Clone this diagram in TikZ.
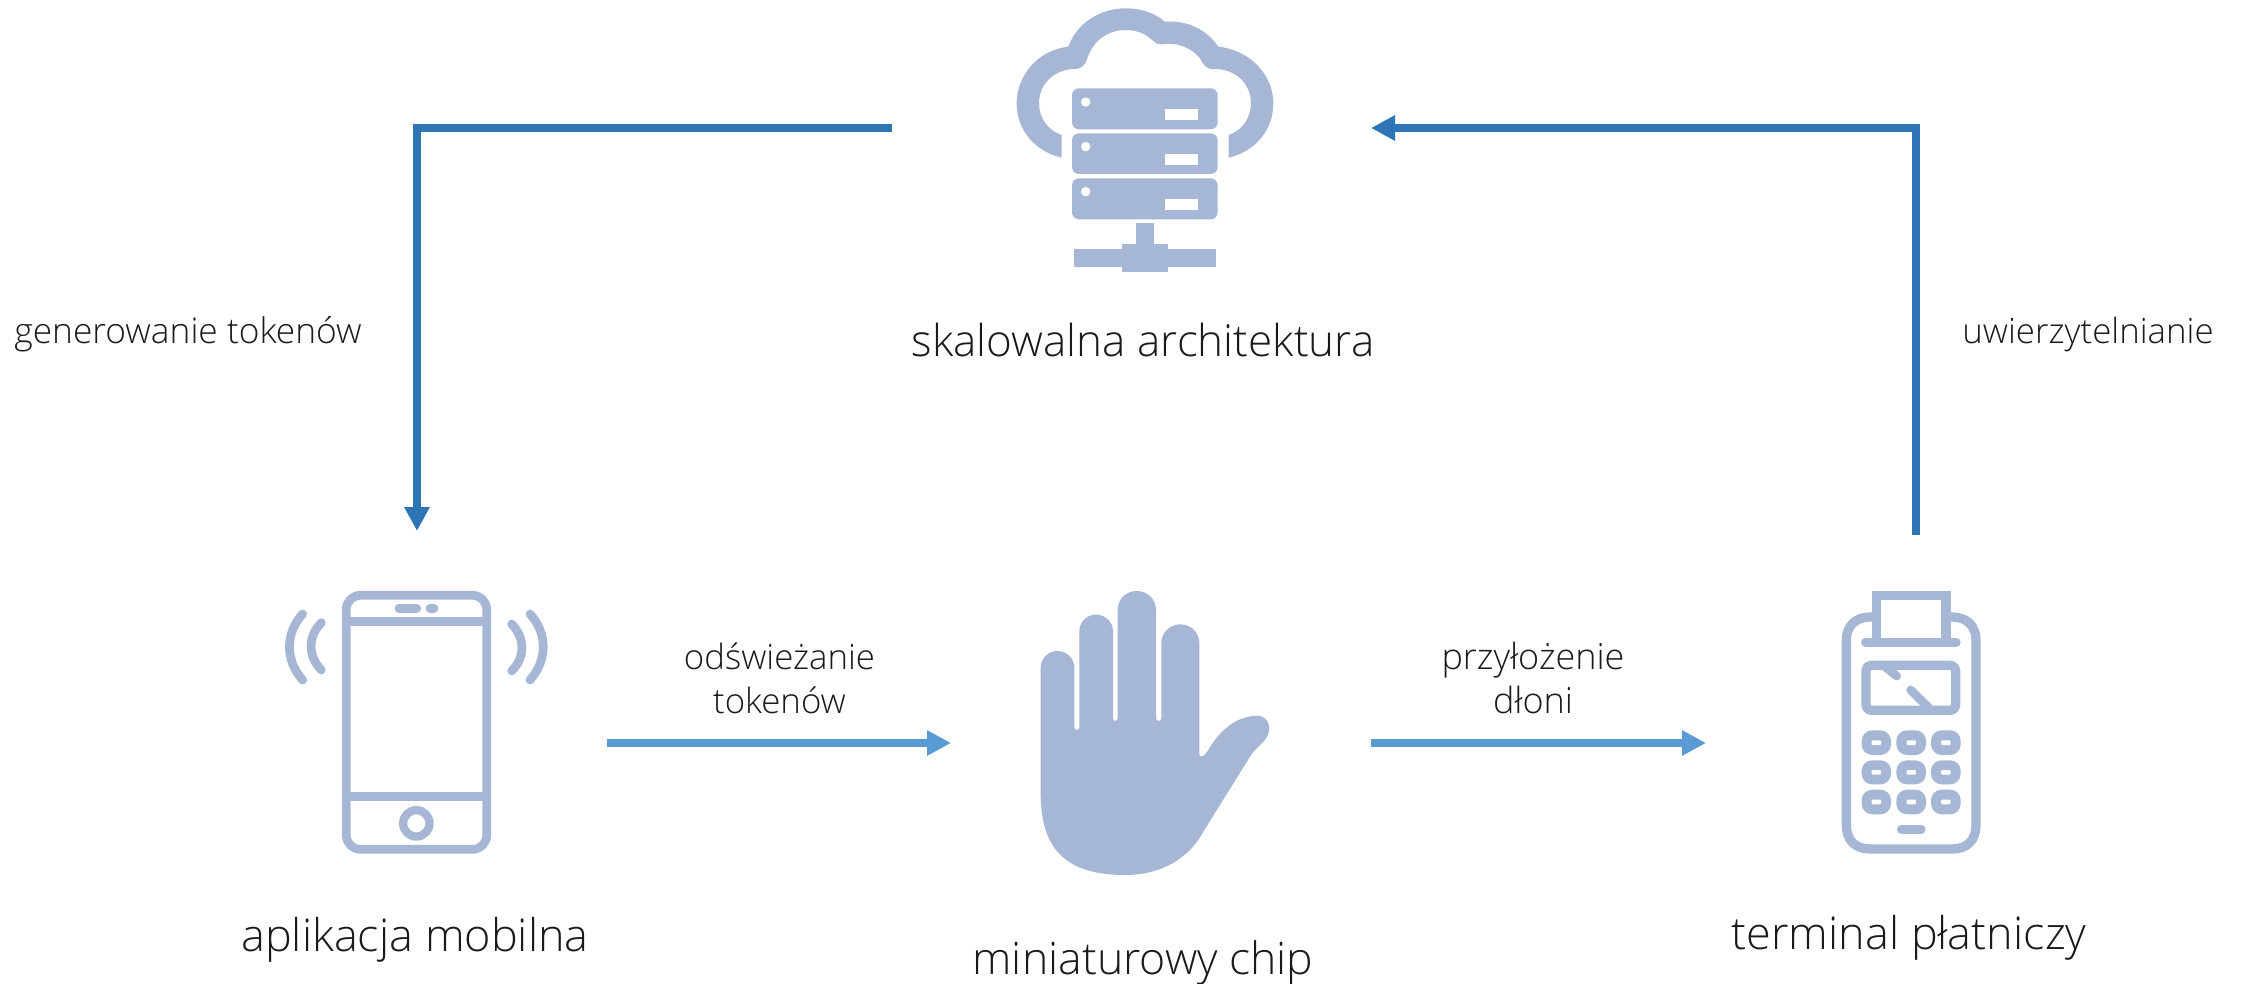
\documentclass[tikz,border=0pt]{standalone}
\usepackage{fontspec}
\setmainfont{Open Sans Light}
\usetikzlibrary{arrows.meta}
\definecolor{icon}{HTML}{A6B7D6}
\definecolor{darkarrow}{HTML}{2E75B6}
\definecolor{lightarrow}{HTML}{5B9BD5}
\definecolor{txt}{HTML}{1A1A1A}
\tikzset{
  anchorbox/.style={draw=none,inner sep=0pt,outer sep=0pt,minimum width=#1},
  flow/.style={line width=8pt,-{Triangle[length=24pt,width=24pt]}},
  darkflow/.style={flow,draw=darkarrow,color=darkarrow},
  lightflow/.style={flow,draw=lightarrow,color=lightarrow},
  biglabel/.style={anchor=base,text=txt,inner sep=0pt,font=\fontsize{#1}{#1}\selectfont},
  smalllabel/.style={anchor=base,text=txt,inner sep=0pt,align=center,font=\fontsize{#1}{44}\selectfont},
  iconline/.style={draw=icon,line cap=round,line join=round},
}
\begin{document}
\begin{tikzpicture}[x=1pt,y=-1pt]
\useasboundingbox (0,0) rectangle (2241,984);
\fill[white] (0,0) rectangle (2241,984);

% cloud + servers
\begin{scope}[shift={(980,0)},x=0.33333pt,y=-0.33333pt]
\fill[icon] (245,473) .. controls (165,455) and (110,390) .. (110,310)
  .. controls (110,225) and (175,150) .. (265,140)
  .. controls (290,70) and (360,25) .. (437,25)
  .. controls (485,25) and (525,40) .. (555,65)
  .. controls (625,60) and (680,90) .. (715,140)
  .. controls (810,150) and (880,225) .. (880,310)
  .. controls (880,390) and (825,455) .. (746,473)
  -- (746,405)
  .. controls (790,390) and (813,350) .. (813,310)
  .. controls (813,250) and (765,207) .. (705,207)
  .. controls (680,210) and (670,195) .. (660,175)
  .. controls (635,145) and (595,125) .. (545,133)
  .. controls (530,135) and (525,125) .. (510,115)
  .. controls (490,98) and (465,90) .. (437,90)
  .. controls (385,90) and (340,120) .. (322,175)
  .. controls (315,200) and (300,207) .. (285,207)
  .. controls (225,207) and (177,250) .. (177,310)
  .. controls (177,355) and (205,392) .. (245,405) -- cycle;
\foreach \t/\b/\d/\ra/\rb in {265/388/306/327/360,400/522/440/462/495,535/658/575/597/630}{
  \fill[icon,rounded corners=7pt] (276,\t) rectangle (713,\b);
  \fill[white] (317,\d) circle[radius=4.7pt];
  \fill[white] (554,\ra) rectangle (653,\rb);
}
\fill[icon] (469,670) rectangle (521,735);
\fill[icon] (427,732) rectangle (563,815);
\fill[icon] (281,748) rectangle (708,800);
\end{scope}

% phone
\begin{scope}[shift={(260,570)},x=0.33333pt,y=-0.33333pt]
\draw[iconline,line width=8.7pt,rounded corners=14pt] (259,76) rectangle (680,838);
\draw[iconline,line width=8.4pt,line cap=butt] (259,155) -- (680,155) (259,680) -- (680,680);
\draw[iconline,line width=8.7pt] (417,115) -- (470,115) (510,115) -- (522,115);
\draw[iconline,line width=8.3pt] (469,760) circle[radius=13.2pt];
\draw[iconline,line width=8.7pt] (128,132) .. controls (75,190) and (75,270) .. (128,330);
\draw[iconline,line width=8.7pt] (184,158) .. controls (143,200) and (143,258) .. (184,300);
\draw[iconline,line width=8.7pt] (810,132) .. controls (863,190) and (863,270) .. (810,330);
\draw[iconline,line width=8.7pt] (755,162) .. controls (796,204) and (796,262) .. (755,303);
\end{scope}

% hand
\begin{scope}[shift={(1020,570)},x=0.33333pt,y=-0.33333pt]
\fill[icon] (62,293) .. controls (62,265) and (85,243) .. (112,243)
  .. controls (140,243) and (163,265) .. (163,293)
  -- (163,472) .. controls (163,482) and (178,482) .. (178,472)
  -- (178,184) .. controls (178,156) and (200,134) .. (228,134)
  .. controls (257,134) and (279,156) .. (279,184)
  -- (279,445) .. controls (279,455) and (293,455) .. (293,445)
  -- (293,120) .. controls (293,88) and (318,63) .. (350,63)
  .. controls (383,63) and (408,88) .. (408,120)
  -- (408,445) .. controls (408,455) and (424,455) .. (424,445)
  -- (424,220) .. controls (424,188) and (449,163) .. (481,163)
  .. controls (513,163) and (538,188) .. (538,220)
  -- (538,555) .. controls (545,566) and (555,555) .. (565,540)
  .. controls (600,480) and (650,437) .. (715,437)
  .. controls (745,440) and (758,475) .. (738,505)
  .. controls (725,525) and (705,535) .. (690,560)
  -- (550,785)
  .. controls (510,860) and (430,915) .. (315,915)
  .. controls (130,915) and (62,830) .. (62,670) -- cycle;
\end{scope}

% terminal
\begin{scope}[shift={(1820,570)},x=0.33333pt,y=-0.33333pt]
\draw[iconline,line width=9.3pt,line cap=butt] (169,141) -- (150,141) .. controls (105,141) and (79,170) .. (79,210)
  -- (79,765) .. controls (79,810) and (105,837) .. (150,837)
  -- (397,837) .. controls (442,837) and (468,810) .. (468,765)
  -- (468,210) .. controls (468,170) and (442,141) .. (397,141) -- (378,141);
\draw[iconline,line width=9.3pt,line cap=butt,line join=miter] (169,217) -- (169,77) -- (378,77) -- (378,217);
\draw[iconline,line width=9.3pt] (137,217) -- (408,217);
\draw[iconline,line width=9.3pt,rounded corners=5pt] (138,286) rectangle (407,421);
\draw[iconline,line width=8.7pt] (195,290) -- (230,318);
\draw[iconline,line width=8.7pt] (272,360) -- (325,412);
\foreach \xa/\xb in {125/213,229/318,333/422}{
  \foreach \ya/\yb in {481/555,571/643,659/733}{
    \fill[icon,rounded corners=10.5pt] (\xa,\ya) rectangle (\xb,\yb);
    \pgfmathsetmacro{\cx}{(\xa+\xb)/2}
    \pgfmathsetmacro{\cy}{(\ya+\yb)/2}
    \fill[white,rounded corners=1pt] (\cx-14,\cy-7) rectangle (\cx+14,\cy+7);
  }
}
\draw[iconline,line width=9.3pt] (245,778) -- (303,778);
\end{scope}

% invisible icon boxes that the connectors attach to
\node[anchorbox=479pt,minimum height=60pt] (cloud) at (1131.5,128) {};
\node[anchorbox=380pt,minimum height=424pt] (phone) at (417,743) {};
\node[anchorbox=420pt,minimum height=300pt] (hand) at (1161,743) {};
\node[anchorbox=420pt,minimum height=416pt] (terminal) at (1916,743) {};

% connectors
\draw[darkflow] (cloud.west) -| (phone.north);
\draw[darkflow] (terminal.north) |- (cloud.east);
\draw[lightflow] (phone.east) -- (hand.west);
\draw[lightflow] (hand.east) -- (terminal.west);

% labels
\node[biglabel=44] (lcloud) at (1143,356) {skalowalna architektura};
\node[biglabel=45] (lphone) at (415,951) {aplikacja mobilna};
\node[biglabel=44.6] (lhand) at (1143,974) {miniaturowy chip};
\node[biglabel=45] (lterm) at (1909,949) {terminal płatniczy};
\node[smalllabel=35.3] (lgen) at (188,344) {generowanie tokenów};
\node[smalllabel=34.8] (luwi) at (2088,344) {uwierzytelnianie};
\node[smalllabel=34.8] (lods) at (779.5,713) {odświeżanie\\tokenów};
\node[smalllabel=36] (lprz) at (1533,713) {przyłożenie\\dłoni};
\end{tikzpicture}
\end{document}
